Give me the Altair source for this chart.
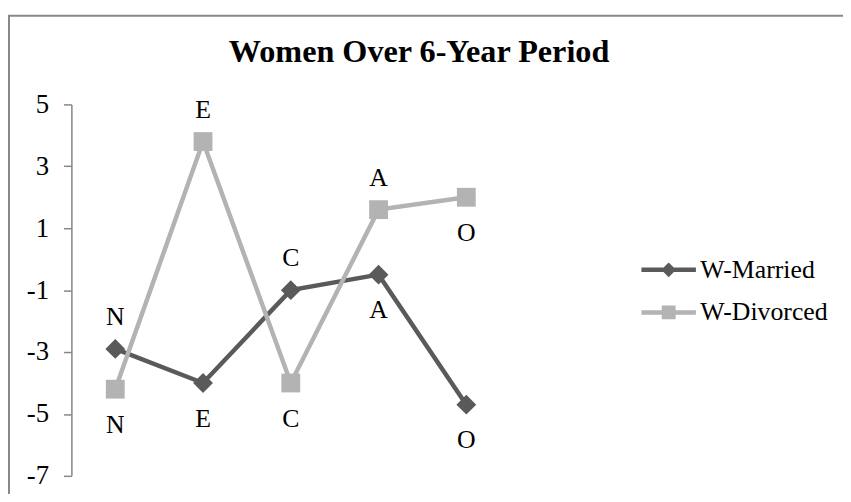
import altair as alt
import pandas as pd

categories = ["N", "E", "C", "A", "O"]
married = [-2.9, -4.0, -1.0, -0.5, -4.7]
divorced = [-4.2, 3.8, -4.0, 1.6, 2.0]
married_label_side = ["above", "below", "above", "below", "below"]
divorced_label_side = ["below", "above", "below", "above", "below"]
series_names = ["W-Married", "W-Divorced"]
y_ticks = [-7, -5, -3, -1, 1, 3, 5]
colors = ["#5a5a5a", "#b3b3b3"]
title_text = "Women Over 6-Year Period"

rows = []
for s, vals, sides in [(series_names[0], married, married_label_side),
                       (series_names[1], divorced, divorced_label_side)]:
    for c, v, side in zip(categories, vals, sides):
        rows.append({"cat": c, "series": s, "value": v, "side": side})
df = pd.DataFrame(rows)

FONT = "Liberation Serif"
FS = 26

x = alt.X("cat:N", sort=categories, scale=alt.Scale(type="point", padding=0.5), axis=None)
y = alt.Y("value:Q", scale=alt.Scale(domain=[-7, 5], nice=False, zero=False),
          axis=alt.Axis(values=y_ticks, title=None, grid=False, domainColor="#868686",
                        domainWidth=1.5, tickColor="#868686", tickWidth=1.5, tickSize=8,
                        labelFont=FONT, labelFontSize=27, labelColor="black", labelPadding=15,
                        labelExpr="toString(datum.value)"))

frame = alt.Chart(pd.DataFrame({"k": [0]})).mark_rect(
    fill="transparent", stroke="#888888", strokeWidth=2
).encode(x=alt.value(-63), x2=alt.value(900), y=alt.value(-89.5), y2=alt.value(600))

title = alt.Chart(pd.DataFrame({"t": [title_text]})).mark_text(
    font=FONT, fontSize=32.5, fontWeight="bold", color="black", align="center",
    baseline="alphabetic"
).encode(x=alt.value(351), y=alt.value(-43), text="t:N")

base = alt.Chart(df)
layers = [frame, title]
shapes = ["diamond", "square"]
sizes = [400, 361]
for i, s in enumerate(series_names):
    sub = base.transform_filter(alt.datum.series == s)
    layers.append(sub.mark_line(color=colors[i], strokeWidth=4.5).encode(x=x, y=y))
    layers.append(sub.mark_point(shape=shapes[i], filled=True, size=sizes[i], opacity=1,
                                 color=colors[i]).encode(x=x, y=y))

for i, s in enumerate(series_names):
    sub = base.transform_filter(alt.datum.series == s)
    layers.append(sub.transform_filter(alt.datum.side == "above").mark_text(
        font=FONT, fontSize=FS, color="black", dy=-32, baseline="middle").encode(
        x=x, y=y, text="cat:N"))
    layers.append(sub.transform_filter(alt.datum.side == "below").mark_text(
        font=FONT, fontSize=FS, color="black", dy=36, baseline="middle").encode(
        x=x, y=y, text="cat:N"))

married_path = "M-1.833,-0.15H1.833V0.15H-1.833Z M0,-0.5L0.5,0L0,0.5L-0.5,0Z"
divorced_path = "M-1.833,-0.15H1.833V0.15H-1.833Z M-0.467,-0.467H0.467V0.467H-0.467Z"

legend_layer = base.transform_filter("false").mark_point(filled=True, opacity=1).encode(
    color=alt.Color("series:N", scale=alt.Scale(domain=series_names, range=colors),
                    legend=alt.Legend(title=None, orient="none", legendX=588, legendY=152,
                                      symbolSize=900, labelFont=FONT, labelFontSize=FS,
                                      labelColor="black", labelOffset=17, rowPadding=15,
                                      padding=0, symbolOpacity=1, symbolStrokeWidth=0)),
    shape=alt.Shape("series:N", scale=alt.Scale(domain=series_names,
                                                range=[married_path, divorced_path]))
)
layers.append(legend_layer)

chart = alt.layer(*layers).properties(
    width=443, height=375,
    padding={"left": 64, "top": 95, "right": 336, "bottom": 16},
    autosize=alt.AutoSizeParams(type="none"),
    background="white",
).configure_view(strokeWidth=0)

chart.save("out.html", embed_options={"renderer": "svg", "actions": False})
